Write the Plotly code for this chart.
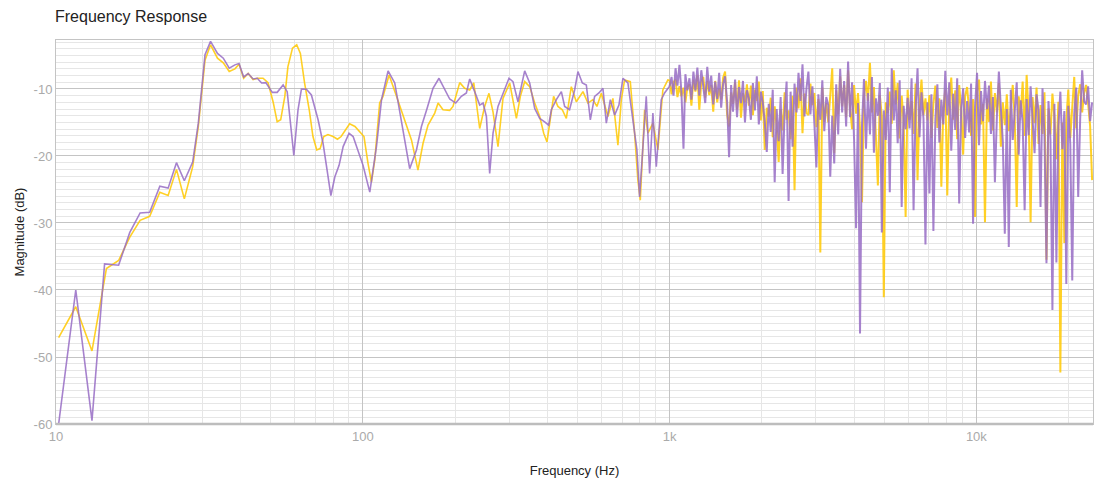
import plotly.graph_objects as go
import math

# ---- low-frequency part ----
purple_lo_freq = [10.2, 11.6, 13.1, 14.4, 16.0, 17.4, 18.8, 20.2, 21.8, 23.2, 24.7, 26.2, 27.9, 29.1,
                  30.6, 31.9, 33.6, 35.1, 36.7, 38.3, 39.5, 40.9, 42.3, 43.9, 45.3, 46.8, 48.3, 50.7,
                  52.6, 55.0, 56.7, 59.6, 61.5, 63.1, 65.5, 68.0, 71.5, 74.2, 76.5, 78.7, 81.1, 83.7,
                  86.3, 90.2, 93.0, 96.6, 100.2, 105.4, 110.8, 115.1, 120.9, 127.1, 133.7, 142.2, 149.6,
                  155.3, 162.0, 169.4, 177.2, 184.9, 192.0, 200.9, 209.6, 217.6, 223.1, 231.6, 240.5,
                  246.6, 252.9, 259.2, 265.8, 275.9, 286.4, 299.6, 308.7, 320.5, 337.1, 350.0, 363.4,
                  377.3, 391.6, 403.6, 411.8, 427.5, 443.9, 455.0, 472.1, 490.4, 502.7, 519.5, 535.4,
                  551.7, 569.8, 588.5, 606.4, 622.1, 641.0, 662.0, 683.8, 704.6, 731.4, 759.5, 782.6,
                  798.6, 818.5, 839.5, 860.8, 882.3, 905.1, 939.7, 963.2]
purple_lo_db = [-60.0, -40.0, -59.5, -36.1, -36.3, -31.4, -28.5, -28.4, -24.5, -24.8, -21.0, -23.7, -20.9, -15.1,
                -4.9, -2.9, -4.7, -5.4, -6.9, -6.4, -6.2, -8.2, -7.7, -8.5, -8.4, -9.1, -9.05, -10.5,
                -10.5, -9.4, -10.4, -19.9, -13.1, -10.0, -10.05, -10.9, -14.6, -18.1, -22.1, -25.9, -23.1, -21.4,
                -18.6, -16.6, -17.1, -19.4, -21.4, -25.4, -18.6, -11.6, -7.3, -9.1, -15.1, -21.9, -19.1,
                -15.6, -12.9, -9.9, -8.4, -10.05, -11.5, -12.1, -11.1, -10.6, -8.5, -10.4, -12.4,
                -12.1, -14.1, -22.6, -16.6, -12.6, -10.6, -8.4, -8.9, -11.9, -7.3, -9.1, -12.9,
                -14.4, -14.9, -15.4, -13.1, -11.6, -10.4, -12.6, -13.1, -10.15, -7.4, -9.1, -9.4,
                -14.6, -11.1, -10.6, -9.9, -15.1, -11.6, -13.9, -12.4, -8.4, -9.1, -15.1, -19.1,
                -26.1, -19.1, -11.1, -22.6, -13.6, -21.6, -11.6, -10.6]

yellow_lo_freq = [10.2, 11.6, 13.1, 14.6, 16.0, 17.4, 18.8, 20.2, 21.8, 23.2, 24.7, 26.2, 27.9, 29.1,
                  30.6, 31.9, 33.6, 35.1, 36.7, 38.3, 39.5, 40.9, 42.3, 43.9, 45.3, 47.3, 49.1, 51.0,
                  52.6, 54.0, 55.7, 57.0, 59.0, 60.9, 62.6, 64.6, 66.9, 68.8, 70.8, 72.6, 74.6, 77.0,
                  80.0, 82.7, 85.0, 87.8, 90.6, 94.3, 97.9, 100.9, 104.0, 106.7, 109.4, 113.5, 116.4,
                  121.8, 128.8, 137.0, 144.1, 151.3, 157.2, 163.2, 171.6, 176.0, 182.6, 192.0, 196.8,
                  207.0, 214.9, 223.1, 230.0, 240.5, 249.6, 257.8, 265.7, 275.9, 286.4, 301.2, 316.7,
                  326.3, 337.1, 350.0, 363.4, 377.3, 388.8, 398.5, 406.5, 418.8, 432.5, 447.1, 460.7,
                  478.3, 496.6, 522.0, 542.0, 562.5, 579.7, 599.2, 629.6, 653.6, 678.6, 696.1, 713.6,
                  744.7, 769.1, 788.4, 802.7, 829.1, 850.0, 882.5, 916.2, 950.7, 987.4]
yellow_lo_db = [-47.1, -42.5, -49.1, -36.8, -35.6, -32.1, -29.6, -29.0, -25.4, -25.9, -22.0, -26.4, -21.6, -15.6,
                -5.7, -3.4, -5.4, -6.1, -7.4, -7.0, -6.3, -8.4, -7.7, -8.6, -8.4, -8.4, -9.05, -11.9,
                -14.9, -14.6, -11.1, -6.7, -3.9, -3.4, -4.7, -9.1, -13.1, -17.1, -19.1, -18.9, -17.1, -16.8,
                -17.1, -17.5, -17.1, -16.1, -15.2, -15.6, -16.4, -17.1, -21.1, -23.9, -20.6, -12.1, -11.1,
                -7.9, -11.1, -14.6, -17.6, -22.1, -18.1, -15.4, -13.6, -12.1, -13.1, -13.2, -12.6,
                -9.05, -9.9, -10.15, -9.1, -15.9, -12.6, -10.65, -13.4, -18.6, -11.4, -9.1, -14.4,
                -11.1, -8.9, -9.65, -12.1, -14.1, -16.6, -17.9, -15.1, -11.1, -12.6, -13.1, -14.4,
                -9.65, -11.9, -10.4, -12.1, -11.6, -12.6, -10.65, -14.1, -11.4, -18.4, -11.6, -8.65,
                -8.9, -16.6, -23.6, -26.6, -13.1, -16.6, -15.1, -19.1, -10.15, -8.65]

# ---- high-frequency part, shared frequency grid (Hz) ----
hi_freq = [1000, 1015, 1030, 1046, 1061, 1077, 1093, 1110, 1126, 1143,
           1161, 1178, 1196, 1214, 1232, 1250, 1269, 1288, 1307, 1327,
           1347, 1367, 1388, 1408, 1430, 1451, 1473, 1495, 1517, 1540,
           1563, 1587, 1610, 1635, 1659, 1684, 1709, 1735, 1761, 1787,
           1814, 1841, 1869, 1897, 1925, 1954, 1984, 2013, 2043, 2074,
           2105, 2137, 2169, 2201, 2234, 2268, 2302, 2336, 2372, 2407,
           2443, 2480, 2517, 2555, 2593, 2632, 2672, 2712, 2752, 2794,
           2835, 2878, 2921, 2965, 3010, 3055, 3100, 3147, 3194, 3242,
           3291, 3340, 3390, 3441, 3493, 3545, 3598, 3652, 3707, 3763,
           3819, 3876, 3935, 3994, 4054, 4114, 4176, 4239, 4302, 4367,
           4432, 4499, 4566, 4635, 4704, 4775, 4846, 4919, 4993, 5068,
           5144, 5221, 5299, 5379, 5459, 5541, 5624, 5709, 5794, 5881,
           5969, 6059, 6150, 6242, 6336, 6431, 6527, 6625, 6724, 6825,
           6928, 7032, 7137, 7244, 7353, 7463, 7575, 7689, 7804, 7921,
           8040, 8161, 8283, 8407, 8533, 8661, 8791, 8923, 9057, 9193,
           9331, 9471, 9613, 9757, 9903, 10052, 10203, 10356, 10511, 10669,
           10829, 10991, 11156, 11323, 11493, 11666, 11841, 12018, 12198, 12381,
           12567, 12756, 12947, 13141, 13338, 13538, 13741, 13947, 14157, 14369,
           14585, 14803, 15025, 15251, 15479, 15712, 15947, 16186, 16429, 16676,
           16926, 17180, 17437, 17699, 17964, 18234, 18507, 18785, 19067, 19353,
           19643, 19938, 20237, 20540, 20848, 21161, 21478, 21800, 22127, 22459,
           22796, 23138, 23485, 23837]

purple_hi_db = [-9.6, -8.2, -11.0, -6.9, -9.5, -6.4, -10.5, -18.9, -7.8, -10.2,
                -8.4, -11.6, -7.4, -10.2, -6.8, -11.0, -7.2, -9.6, -12.1, -6.7,
                -10.4, -8.0, -12.3, -8.9, -11.5, -7.6, -12.8, -9.2, -8.1, -11.9,
                -20.2, -9.4, -13.4, -8.6, -14.2, -9.7, -12.1, -8.8, -15.0, -10.2,
                -11.4, -14.6, -9.1, -13.2, -8.1, -15.3, -10.4, -12.0, -14.9, -19.4,
                -12.2, -16.4, -10.1, -23.9, -13.0, -17.8, -11.2, -22.7, -13.4, -8.9,
                -26.7, -10.4, -18.6, -9.2, -13.5, -7.6, -11.8, -6.3, -14.1, -9.9,
                -7.4, -13.8, -9.6, -15.2, -21.7, -10.8, -14.6, -8.7, -16.3, -11.2,
                -12.4, -23.1, -14.0, -21.1, -9.3, -16.8, -7.0, -13.5, -8.8, -15.6,
                -5.9, -14.2, -9.0, -17.5, -30.8, -12.1, -46.5, -15.3, -8.5, -18.9,
                -10.6, -16.8, -8.2, -19.5, -11.4, -14.0, -9.1, -31.4, -13.2, -17.6,
                -9.8, -25.4, -6.9, -14.7, -10.2, -18.1, -8.7, -27.6, -12.5, -16.0,
                -11.3, -15.9, -8.4, -28.1, -13.0, -6.9, -17.2, -10.5, -14.4, -33.2,
                -12.0, -25.6, -10.8, -31.2, -14.5, -9.3, -18.0, -11.6, -15.3, -7.3,
                -13.9, -9.0, -19.2, -10.7, -16.1, -8.4, -27.1, -12.9, -9.9, -17.3,
                -11.8, -16.5, -9.2, -30.1, -12.6, -7.6, -18.4, -10.3, -14.8, -8.8,
                -13.0, -9.5, -16.7, -11.2, -23.9, -14.1, -7.4, -12.8, -17.9, -31.6,
                -13.0, -33.6, -10.1, -17.6, -12.4, -9.0, -19.8, -11.7, -15.0, -28.1,
                -11.5, -16.9, -9.6, -14.3, -19.6, -10.8, -13.2, -27.6, -9.9, -17.1,
                -36.0, -11.8, -17.5, -43.0, -12.2, -35.9, -15.6, -10.4, -19.0, -13.3,
                -39.1, -12.5, -18.2, -38.6, -13.7, -9.8, -26.1, -14.4, -7.2, -11.9,
                -12.3, -9.6, -14.8, -12.0]

yellow_hi_db = [-8.7, -10.8, -9.0, -8.6, -11.2, -9.6, -11.1, -9.8, -12.0, -9.7,
                -9.3, -12.5, -8.6, -10.4, -7.9, -13.1, -9.0, -8.2, -11.3, -8.8,
                -10.9, -9.4, -13.4, -8.8, -12.0, -9.9, -11.6, -8.3, -7.4, -13.8,
                -15.6, -10.5, -12.2, -9.0, -13.1, -8.7, -14.3, -10.6, -12.0, -9.3,
                -12.5, -9.5, -13.9, -10.1, -11.8, -8.9, -14.7, -10.3, -19.1, -12.8,
                -14.1, -11.3, -17.2, -12.6, -15.5, -20.9, -13.0, -16.2, -10.5, -14.6,
                -13.2, -17.5, -11.0, -25.1, -9.8, -12.9, -8.4, -16.6, -10.7, -13.6,
                -13.9, -9.2, -12.4, -10.6, -15.7, -11.5, -34.4, -9.8, -14.9, -12.1,
                -15.0, -11.3, -6.9, -19.6, -10.2, -13.8, -8.1, -12.6, -9.4, -14.2,
                -7.2, -12.8, -16.0, -9.4, -13.7, -10.6, -15.9, -26.9, -11.2, -8.8,
                -11.8, -6.1, -13.5, -9.7, -16.3, -24.4, -10.9, -14.1, -41.1, -12.0,
                -13.6, -10.4, -15.2, -7.2, -12.3, -9.1, -17.4, -11.0, -14.8, -29.1,
                -10.1, -14.6, -11.8, -16.7, -9.2, -23.6, -12.5, -8.6, -13.9, -11.4,
                -14.7, -10.9, -17.3, -12.2, -9.5, -15.8, -11.4, -24.6, -13.0, -10.1,
                -25.9, -11.6, -8.3, -14.6, -10.2, -17.5, -9.4, -13.1, -19.8, -11.0,
                -9.7, -13.2, -17.0, -11.5, -29.1, -10.4, -8.6, -15.3, -12.2, -29.9,
                -11.4, -14.9, -8.9, -16.2, -10.6, -13.5, -9.1, -18.6, -12.0, -15.4,
                -10.8, -16.3, -12.7, -9.4, -14.4, -27.6, -11.1, -13.8, -8.9, -17.0,
                -7.9, -13.6, -29.9, -11.2, -15.1, -9.8, -18.2, -12.4, -16.7, -10.5,
                -35.5, -12.9, -16.8, -10.7, -14.2, -20.5, -11.9, -52.3, -15.0, -33.0,
                -14.6, -10.1, -17.3, -12.8, -8.2, -15.9, -11.0, -9.3, -13.5, -10.6,
                -9.4, -12.2, -15.5, -23.6]

x_tick_vals = [10, 100, 1000, 10000]
x_tick_text = ["10", "100", "1k", "10k"]
x_minor_vals = [20, 30, 40, 50, 60, 70, 80, 90, 200, 300, 400, 500, 600, 700, 800, 900,
                2000, 3000, 4000, 5000, 6000, 7000, 8000, 9000, 20000]
y_tick_vals = [-60, -50, -40, -30, -20, -10]
y_tick_text = ["-60", "-50", "-40", "-30", "-20", "-10"]

yellow_color = "rgba(255,200,0,0.85)"
purple_color = "rgba(150,108,196,0.85)"

fig = go.Figure()
# yellow: smooth low part thinner, dense high part slightly thicker
fig.add_trace(go.Scatter(x=yellow_lo_freq + hi_freq[:1], y=yellow_lo_db + yellow_hi_db[:1],
                         mode="lines", line=dict(color=yellow_color, width=1.6),
                         showlegend=False, hoverinfo="skip"))
fig.add_trace(go.Scatter(x=hi_freq, y=yellow_hi_db,
                         mode="lines", line=dict(color=yellow_color, width=2),
                         showlegend=False, hoverinfo="skip"))
fig.add_trace(go.Scatter(x=purple_lo_freq + hi_freq[:1], y=purple_lo_db + purple_hi_db[:1],
                         mode="lines", line=dict(color=purple_color, width=1.6),
                         showlegend=False, hoverinfo="skip"))
fig.add_trace(go.Scatter(x=hi_freq, y=purple_hi_db,
                         mode="lines", line=dict(color=purple_color, width=2),
                         showlegend=False, hoverinfo="skip"))

font_family = "Liberation Sans, Arial, sans-serif"
fig.update_layout(
    width=1095, height=484,
    margin=dict(l=56, r=2, t=40, b=60),
    paper_bgcolor="white", plot_bgcolor="white",
    font=dict(family=font_family, size=13, color="#222"),
    title=dict(text="Frequency Response", x=55 / 1095, xref="container", xanchor="left",
               y=1 - 16 / 484, yref="container", yanchor="middle",
               font=dict(size=16, color="#222", family=font_family)),
    xaxis=dict(type="log", range=[1, math.log10(24000)],
               tickmode="array", tickvals=x_tick_vals, ticktext=x_tick_text,
               showgrid=True, gridcolor="#c4c4c4", gridwidth=1,
               minor=dict(tickmode="array", tickvals=x_minor_vals, showgrid=True,
                          gridcolor="#e6e6e6", gridwidth=1, ticks=""),
               showline=True, linecolor="#c4c4c4", linewidth=1, mirror=True,
               ticks="", tickfont=dict(color="#aaaaaa", size=13),
               zeroline=False, automargin=False,
               title=dict(text="Frequency (Hz)", standoff=23, font=dict(size=13, color="#222"))),
    yaxis=dict(range=[-60, -2.69], tickmode="array", tickvals=y_tick_vals, ticktext=y_tick_text,
               showgrid=True, gridcolor="#c4c4c4", gridwidth=1,
               minor=dict(dtick=1, showgrid=True, gridcolor="#e6e6e6", gridwidth=1, ticks=""),
               showline=True, linecolor="#c4c4c4", linewidth=1, mirror=True,
               ticks="", tickfont=dict(color="#aaaaaa", size=13),
               zeroline=False, automargin=False,
               title=dict(text="Magnitude (dB)", standoff=6, font=dict(size=13, color="#222"))),
)
# thicker bottom axis line like the reference
fig.add_shape(type="line", xref="paper", yref="paper", x0=0, x1=1, y0=0, y1=0,
              line=dict(color="#bdbdbd", width=2.5))

fig.write_html("out.html")
